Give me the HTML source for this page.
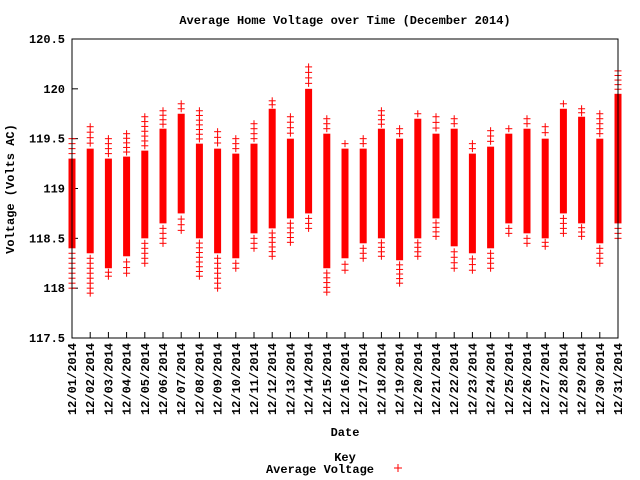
<!DOCTYPE html>
<html><head><meta charset="utf-8"><style>
body{margin:0;background:#fff}
svg{display:block}
text{font-family:"Liberation Mono",monospace;font-weight:bold;font-size:12px;fill:#000}
</style></head><body>
<svg id="chart" width="640" height="480" viewBox="0 0 640 480">
<text x="345" y="24" text-anchor="middle" font-size="11">Average Home Voltage over Time (December 2014)</text>
<text transform="translate(14,189) rotate(-90)" text-anchor="middle">Voltage (Volts AC)</text>
<text x="345" y="436" text-anchor="middle">Date</text>
<text x="345" y="461" text-anchor="middle">Key</text>
<text x="374" y="473" text-anchor="end">Average Voltage</text>
<g stroke="#f00"><line x1="394" x2="402" y1="468" y2="468"/><line x1="398" x2="398" y1="464" y2="472"/></g>
<g id="axes"></g>
<g id="marks"></g>
<rect x="72" y="39" width="546" height="299" fill="none" stroke="#000" stroke-width="1"/>
</svg>
<script>
const days = ["12/01/2014","12/02/2014","12/03/2014","12/04/2014","12/05/2014","12/06/2014","12/07/2014","12/08/2014","12/09/2014","12/10/2014","12/11/2014","12/12/2014","12/13/2014","12/14/2014","12/15/2014","12/16/2014","12/17/2014","12/18/2014","12/19/2014","12/20/2014","12/21/2014","12/22/2014","12/23/2014","12/24/2014","12/25/2014","12/26/2014","12/27/2014","12/28/2014","12/29/2014","12/30/2014","12/31/2014"];
const maxV = [119.5,119.62,119.5,119.55,119.72,119.78,119.85,119.78,119.57,119.5,119.65,119.88,119.72,120.22,119.7,119.45,119.5,119.78,119.6,119.75,119.72,119.7,119.45,119.58,119.6,119.7,119.62,119.85,119.8,119.75,120.18];
const coreHi = [119.3,119.4,119.3,119.32,119.38,119.6,119.75,119.45,119.4,119.35,119.45,119.8,119.5,120.0,119.55,119.4,119.4,119.6,119.5,119.7,119.55,119.6,119.35,119.42,119.55,119.6,119.5,119.8,119.72,119.5,119.95];
const coreLo = [118.4,118.35,118.2,118.32,118.5,118.65,118.75,118.5,118.35,118.3,118.55,118.6,118.7,118.75,118.2,118.3,118.45,118.5,118.28,118.5,118.7,118.42,118.35,118.4,118.65,118.55,118.5,118.75,118.65,118.45,118.65];
const minV = [118.0,117.95,118.12,118.15,118.25,118.45,118.58,118.12,118.0,118.2,118.4,118.32,118.46,118.6,117.96,118.18,118.3,118.32,118.05,118.32,118.52,118.2,118.18,118.2,118.55,118.45,118.42,118.55,118.52,118.25,118.5];
const yTicks = [117.5,118,118.5,119,119.5,120,120.5];
const yTickLabels = ["117.5","118","118.5","119","119.5","120","120.5"];

const X0=72,X1=618,Y0=338,Y1=39;
const xs = i => X0 + i*(X1-X0)/(days.length-1);
const ys = v => Y0 - (v-117.5)/(120.5-117.5)*(Y0-Y1);
const NS="http://www.w3.org/2000/svg";
const axes=document.getElementById('axes'), marks=document.getElementById('marks');
function mk(tag,attrs,parent){const e=document.createElementNS(NS,tag);for(const k in attrs)e.setAttribute(k,attrs[k]);parent.appendChild(e);return e;}

yTicks.forEach((v,i)=>{
  const y=ys(v);
  const t=mk('line',{x1:X0,x2:X0+6,y1:y,y2:y,stroke:'#000'},axes);
  
  
  const l=mk('text',{x:X0-7,y:y+4,'text-anchor':'end'},axes);
  l.textContent=yTickLabels[i];
  
  
});
days.forEach((d,i)=>{
  const x=xs(i);
  const t=mk('line',{x1:x,x2:x,y1:Y0,y2:Y0-6,stroke:'#000'},axes);
  
  
  const l=mk('text',{transform:`translate(${x+4},${343}) rotate(-90)`,'text-anchor':'end','font-size':'11.5'},axes);
  l.textContent=d;
  
  
});
function plus(x,y,g){
  mk('line',{x1:x-3.5,x2:x+3.5,y1:y,y2:y,stroke:'#f00'},g);
  mk('line',{x1:x,x2:x,y1:y-3.5,y2:y+3.5,stroke:'#f00'},g);
}
days.forEach((d,i)=>{
  const x=xs(i);
  const g=mk('g',{},marks);
  
  
  const top=ys(coreHi[i]), bot=ys(coreLo[i]);
  mk('rect',{x:x-3.5,y:top,width:7,height:bot-top,fill:'#f00'},g);
  plus(x,ys(maxV[i]),g);plus(x,ys(minV[i]),g);
  const n1=Math.max(1,Math.round((ys(coreHi[i])-ys(maxV[i]))/5));
  for(let k=1;k<n1;k++)plus(x,ys(coreHi[i]+(maxV[i]-coreHi[i])*k/n1),g);
  const n2=Math.max(1,Math.round((ys(minV[i])-ys(coreLo[i]))/5));
  for(let k=1;k<n2;k++)plus(x,ys(coreLo[i]-(coreLo[i]-minV[i])*k/n2),g);
});
</script>
</body></html>
